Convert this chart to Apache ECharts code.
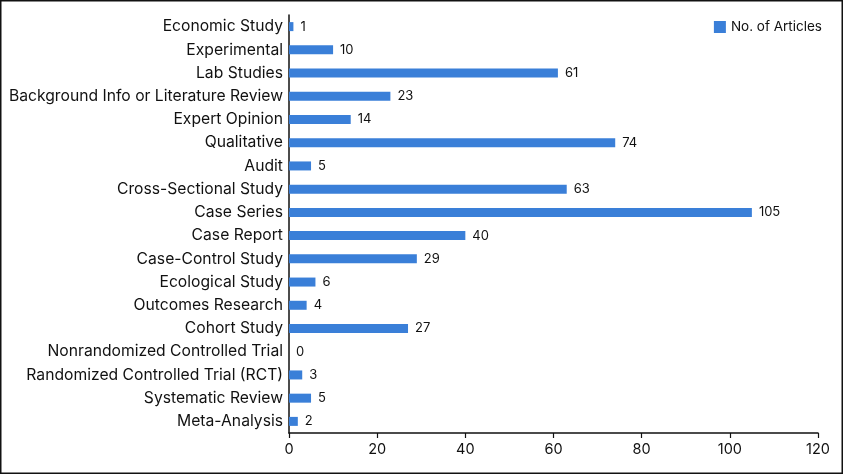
<!DOCTYPE html>
<html><head><meta charset="utf-8">
<script src="https://cdn.jsdelivr.net/npm/echarts@6/dist/echarts.min.js"></script>
<style>html,body{margin:0;padding:0;background:#fff}#c{width:843px;height:474px}</style>
</head><body><div id="c"></div>
<script>
const categories = ["Economic Study","Experimental","Lab Studies","Background Info or Literature Review","Expert Opinion","Qualitative","Audit","Cross-Sectional Study","Case Series","Case Report","Case-Control Study","Ecological Study","Outcomes Research","Cohort Study","Nonrandomized Controlled Trial","Randomized Controlled Trial (RCT)","Systematic Review","Meta-Analysis"];
const articles = [1,10,61,23,14,74,5,63,105,40,29,6,4,27,0,3,5,2];
const xTicks = [0,20,40,60,80,100,120];
const seriesName = "No. of Articles";

const chart = echarts.init(document.getElementById('c'));
const font = 'Inter, Liberation Sans, Arial, sans-serif';
chart.setOption({
  animation:false,
  graphic:[{type:'rect',shape:{x:0.75,y:0.75,width:841.5,height:472.5},style:{fill:'none',stroke:'#111',lineWidth:1.5},silent:true}],
  legend:{right:16,top:15,itemWidth:12,itemHeight:12,itemGap:7,icon:'rect',data:[seriesName],
    textStyle:{fontFamily:font,fontSize:13.5,color:'#111'}},
  grid:{left:289,right:25,top:15,bottom:41,containLabel:false},
  xAxis:{type:'value',min:0,max:120,interval:20,
    axisLine:{show:true,lineStyle:{color:'#111',width:1.5}},
    axisTick:{show:true,length:5,lineStyle:{color:'#111',width:1.2}},
    splitLine:{show:false},
    axisLabel:{fontFamily:font,fontSize:14.5,color:'#111',margin:9,
      formatter:v=>xTicks.includes(v)?String(v):''}},
  yAxis:{type:'category',data:categories,inverse:true,
    axisLine:{show:true,lineStyle:{color:'#111',width:1.5}},
    axisTick:{show:false},
    axisLabel:{fontFamily:font,fontSize:15.7,color:'#111',margin:6}},
  series:[{name:seriesName,type:'bar',data:articles,barWidth:9,
    itemStyle:{color:'#3a7fd8'},
    label:{show:true,position:'right',distance:7,fontFamily:font,fontSize:13,color:'#111'}}]
});
</script></body></html>
